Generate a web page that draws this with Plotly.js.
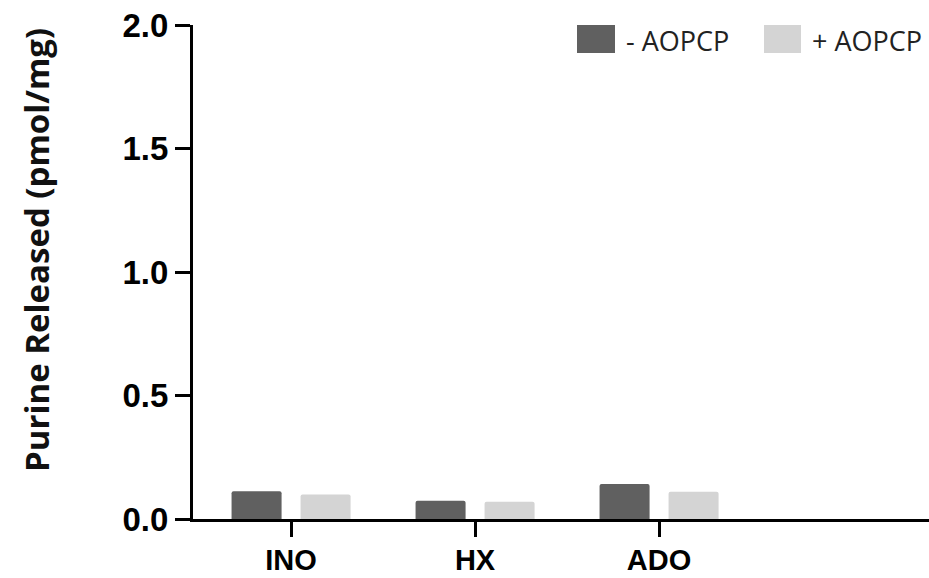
<!DOCTYPE html>
<html>
<head>
<meta charset="utf-8">
<script src="https://cdn.plot.ly/plotly-3.0.1.min.js"></script>
<style>html,body{margin:0;padding:0;background:#fff;}#chart{width:929px;height:578px;}</style>
</head>
<body>
<div id="chart"></div>
<script>
const categories = ["INO", "HX", "ADO"];
const seriesNames = ["- AOPCP", "+ AOPCP"];
const minusAOPCP = [0.112, 0.074, 0.142];
const plusAOPCP = [0.099, 0.070, 0.110];
const yTickVals = [0, 0.5, 1.0, 1.5, 2.0];
const yTickText = ["0.0", "0.5", "1.0", "1.5", "2.0"];
const colors = ["#606060", "#d4d4d4"];

const W = 929, H = 578, L = 193, R = 0, T = 25, B = 59;
const pw = W - L - R, ph = H - T - B;
const px = v => (v - L) / pw;
const py = v => (H - B - v) / ph;

const traces = [
  {type: "bar", name: seriesNames[0], x: categories, y: minusAOPCP, marker: {color: colors[0], cornerradius: 2}, showlegend: false},
  {type: "bar", name: seriesNames[1], x: categories, y: plusAOPCP, marker: {color: colors[1], cornerradius: 2}, showlegend: false}
];

const legendShapes = [
  {type: "rect", xref: "paper", yref: "paper", x0: px(577), x1: px(615), y0: py(53), y1: py(25), fillcolor: colors[0], line: {width: 0}},
  {type: "rect", xref: "paper", yref: "paper", x0: px(764), x1: px(801), y0: py(53), y1: py(25), fillcolor: colors[1], line: {width: 0}}
];
const legendAnn = [
  {xref: "paper", yref: "paper", x: px(624), y: py(40), xanchor: "left", yanchor: "middle", text: seriesNames[0], showarrow: false, font: {family: "Open Sans", size: 27, color: "#222"}},
  {xref: "paper", yref: "paper", x: px(810), y: py(40), xanchor: "left", yanchor: "middle", text: seriesNames[1], showarrow: false, font: {family: "Open Sans", size: 27, color: "#222"}},
  {xref: "paper", yref: "paper", x: px(36), y: py(250), xanchor: "center", yanchor: "middle", textangle: -90, text: "Purine Released (pmol/mg)", showarrow: false, font: {family: "Open Sans", size: 33, color: "#111", weight: "bold"}}
];

const layout = {
  width: W, height: H,
  margin: {l: L, r: R, t: T, b: B},
  paper_bgcolor: "#fff", plot_bgcolor: "#fff",
  barmode: "group", bargap: 0.25, bargroupgap: 0.275,
  showlegend: false,
  xaxis: {
    type: "category", range: [-0.533, 3.467],
    showline: true, linecolor: "#000", linewidth: 3,
    ticks: "outside", ticklen: 15, tickwidth: 3, tickcolor: "#000",
    ticklabelstandoff: -2,
    showgrid: false, zeroline: false,
    tickfont: {family: "Liberation Sans, Arial", size: 29, color: "#000", weight: "bold"}
  },
  yaxis: {
    range: [0, 2], tickvals: yTickVals, ticktext: yTickText,
    showline: true, linecolor: "#000", linewidth: 3,
    ticks: "outside", ticklen: 15, tickwidth: 3, tickcolor: "#000",
    showgrid: false, zeroline: false,
    tickfont: {family: "Liberation Sans, Arial", size: 33, color: "#000", weight: "bold"}
  },
  shapes: legendShapes,
  annotations: legendAnn
};

Plotly.newPlot("chart", traces, layout, {displayModeBar: false, staticPlot: true});
</script>
</body>
</html>
